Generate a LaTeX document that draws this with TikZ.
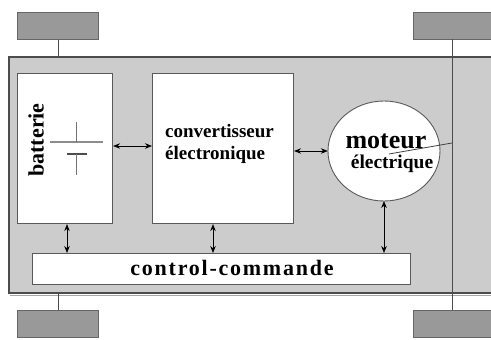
\documentclass[tikz,border=0pt]{standalone}
\usepackage{fontspec}
\setmainfont{Liberation Serif}
\usetikzlibrary{arrows.meta}
\tikzset{
  wheel/.style={draw=black!60, line width=1pt, fill=black!40},
  block/.style={draw=black!65, line width=1.1pt, fill=white},
  axle/.style={draw=black!70, line width=0.7pt},
  link/.style={{Stealth[length=7pt,width=5.5pt]}-{Stealth[length=7pt,width=5.5pt]}, line width=0.7pt, black},
  lbl/.style={font=\bfseries, text=black, inner sep=0pt}
}
\begin{document}
\begin{tikzpicture}[x=1pt,y=-1pt]
\useasboundingbox (0,0) rectangle (491,340);
% chassis
\fill[black!20] (9,57) rectangle (495,293);
\draw[black!70, line width=1.3pt] (495,57) -- (9,57) -- (9,293) -- (495,293);
\draw[black!35, line width=1pt] (10,295) -- (495,295);
% wheels
\node[wheel, minimum width=81pt, minimum height=27pt, inner sep=0pt, anchor=north west] (wtl) at (17,12) {};
\node[wheel, minimum width=81pt, minimum height=27pt, inner sep=0pt, anchor=north west] (wbl) at (17,310) {};
\node[wheel, minimum width=85pt, minimum height=27pt, inner sep=0pt, anchor=north west] (wtr) at (413,12) {};
\node[wheel, minimum width=85pt, minimum height=27pt, inner sep=0pt, anchor=north west] (wbr) at (413,310) {};
\coordinate (ctl) at (58,57);
\coordinate (cbl) at (58,293);
\draw[axle] (wtl.south -| ctl) -- (ctl);
\draw[axle] (cbl) -- (wbl.north -| cbl);
\coordinate (rt) at (452,39);
\coordinate (rb) at (452,310);
\draw[axle] (rt) -- (rb);
% blocks
\node[block, minimum width=95pt, minimum height=150pt, inner sep=0pt, anchor=north west] (bat) at (17,73) {};
\node[block, minimum width=141pt, minimum height=150pt, inner sep=0pt, anchor=north west] (conv) at (152,73) {};
\node[block, minimum width=378pt, minimum height=31pt, inner sep=0pt, anchor=north west] (cc) at (32,253) {};
\draw[block, line width=0.9pt] (384,151) ellipse [x radius=56pt, y radius=50pt];
\node[minimum width=112pt, minimum height=100pt, inner sep=0pt] (mot) at (384,151) {};
% shaft
\coordinate (sh) at (452,143);
\coordinate (sh2) at (389,154);
\draw[black!75, line width=0.8pt] (sh) -- (sh2);
% battery symbol
\coordinate (b1) at (50,142);
\draw[black!45, line width=1.4pt] (b1) -- ++(53,0);
\draw[black!70, line width=1.6pt] (67,154) -- (87,154);
\draw[black!55, line width=0.9pt] (76,122) -- (76,142);
\draw[black!55, line width=0.9pt] (76,154) -- (76,175);
% labels
\node[lbl, rotate=90, font=\bfseries\fontsize{22}{24}\selectfont] (tbat) at (36,140) {batterie};
\node[lbl, align=left, anchor=west, font=\bfseries\fontsize{19}{22}\selectfont] (tconv) at (165,144) {convertisseur\\électronique};
\node[lbl, font=\bfseries\fontsize{26}{28}\selectfont] (tmot) at (386,141) {moteur};
\node[lbl, font=\bfseries\fontsize{19.5}{22}\selectfont] (tel) at (392,164) {électrique};
\node[lbl, font=\bfseries\fontsize{22}{24}\selectfont\addfontfeature{LetterSpace=8}] (tcc) at (232,268) {control-commande};
% connectors
\draw[link] (bat.east |- 0,146) -- (conv.west |- 0,146);
\draw[link] (conv.east |- 0,151) -- (mot.west |- 0,151);
\draw[link] (bat.south -| 67,0) -- (cc.north -| 67,0);
\draw[link] (conv.south -| 213,0) -- (cc.north -| 213,0);
\draw[link] (384,201) -- (cc.north -| 384,0);
\end{tikzpicture}
\end{document}
